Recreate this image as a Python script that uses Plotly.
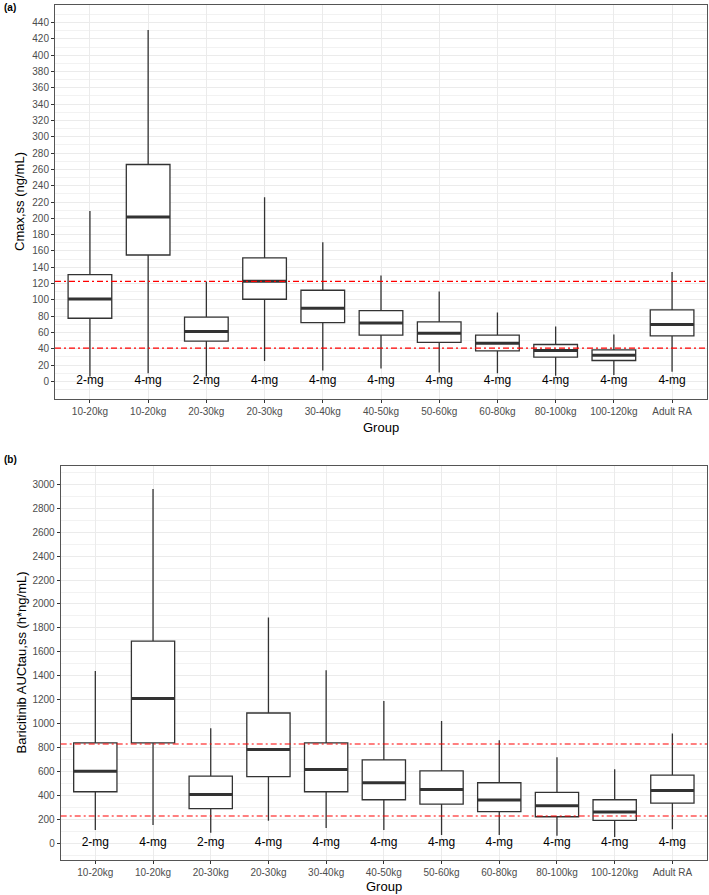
import plotly.graph_objects as go

# ---------------- data ----------------
groups = ["10-20kg", "10-20kg", "20-30kg", "20-30kg", "30-40kg", "40-50kg",
          "50-60kg", "60-80kg", "80-100kg", "100-120kg", "Adult RA"]
doses = ["2-mg", "4-mg", "2-mg", "4-mg", "4-mg", "4-mg",
         "4-mg", "4-mg", "4-mg", "4-mg", "4-mg"]

# Panel (a): Cmax,ss (ng/mL)
cmax_low = [6, 10, 6, 25, 13.5, 16, 11, 10, 7, 8, 12]
cmax_q1 = [77.5, 155, 49.4, 100.8, 72.2, 56.7, 47.8, 37.6, 29.8, 25.7, 55.9]
cmax_med = [101, 201.5, 61.2, 122.9, 89.8, 71.8, 59.2, 46.9, 38, 32.2, 69.8]
cmax_q3 = [131, 266, 78.8, 151.4, 111.8, 86.9, 73.1, 56.7, 45.3, 38.8, 87.8]
cmax_high = [209, 431, 122.4, 225.7, 170.6, 129.8, 110.2, 84.5, 67.3, 57.6, 134.3]
cmax_ref = [40.8, 122.6]

# Panel (b): AUCtau,ss (h*ng/mL)
auc_low = [111, 153, 89, 189, 128, 111, 69, 69, 64, 53, 117]
auc_q1 = [431, 839, 289, 558, 431, 364, 328, 264, 222, 192, 336]
auc_med = [603, 1211, 408, 783, 617, 506, 450, 361, 314, 261, 442]
auc_q3 = [839, 1689, 561, 1089, 839, 697, 606, 506, 425, 364, 569]
auc_high = [1439, 2961, 961, 1886, 1447, 1189, 1022, 861, 719, 619, 917]
auc_ref = [228, 830]

# ---------------- styling ----------------
W, H = 709, 895
FONT = "Liberation Sans, Arial, Helvetica, sans-serif"
BOX_W = 0.75
DARK = "#333333"
GRID = "#EBEBEB"
TICKC = "#4D4D4D"

pos = list(range(len(groups)))

fig = go.Figure()


def add_panel(xa, ya, low, q1, med, q3, high, ref):
    xs = "x" if xa == 1 else f"x{xa}"
    ys = "y" if ya == 1 else f"y{ya}"
    fig.add_trace(go.Box(
        x=pos, q1=q1, median=med, q3=q3, lowerfence=low, upperfence=high,
        width=BOX_W, whiskerwidth=0, boxpoints=False,
        fillcolor="white", line=dict(color=DARK, width=1.3),
        xaxis=xs, yaxis=ys, showlegend=False, hoverinfo="skip",
    ))
    # thick median bars
    mx, my = [], []
    for p, m in zip(pos, med):
        mx += [p - BOX_W / 2, p + BOX_W / 2, None]
        my += [m, m, None]
    fig.add_trace(go.Scatter(
        x=mx, y=my, mode="lines", line=dict(color=DARK, width=3),
        xaxis=xs, yaxis=ys, showlegend=False, hoverinfo="skip",
    ))
    # reference lines
    for r in ref:
        fig.add_shape(type="line", xref=f"{xs} domain", x0=0, x1=1,
                      yref=ys, y0=r, y1=r, layer="above",
                      line=dict(color="#FF0000", width=1.2, dash="6px,3px,2px,3px"))
    # dose labels at y = 0
    fig.add_trace(go.Scatter(
        x=pos, y=[0] * len(pos), mode="text", text=doses,
        textfont=dict(size=12, color="black", family=FONT),
        textposition="middle center",
        xaxis=xs, yaxis=ys, showlegend=False, hoverinfo="skip",
    ))


add_panel(1, 1, cmax_low, cmax_q1, cmax_med, cmax_q3, cmax_high, cmax_ref)
add_panel(2, 2, auc_low, auc_q1, auc_med, auc_q3, auc_high, auc_ref)


def xaxis_cfg(dom, anchor):
    return dict(
        domain=dom, anchor=anchor, range=[-0.6, len(groups) - 0.4],
        tickmode="array", tickvals=pos, ticktext=groups,
        ticks="outside", ticklen=3, tickcolor=DARK, tickwidth=1,
        tickfont=dict(size=10, color=TICKC, family=FONT),
        showgrid=True, gridcolor=GRID, gridwidth=1,
        showline=True, mirror=True, linecolor="#555555", linewidth=1,
        zeroline=False, automargin=False,
    )


def yaxis_cfg(dom, anchor, rng, dtick, top):
    return dict(
        domain=dom, anchor=anchor, range=rng,
        tickmode="array", tickvals=list(range(0, top + 1, dtick)),
        ticks="outside", ticklen=3, tickcolor=DARK, tickwidth=1,
        tickfont=dict(size=10, color=TICKC, family=FONT),
        showgrid=True, gridcolor=GRID, gridwidth=1,
        minor=dict(tickmode="linear", tick0=dtick / 2, dtick=dtick,
                   showgrid=True, gridcolor="#F2F2F2", gridwidth=0.6, ticks=""),
        showline=True, mirror=True, linecolor="#555555", linewidth=1,
        zeroline=False, automargin=False,
    )


def py(p):
    return 1 - p / H


def px(p):
    return p / W


fig.update_layout(
    width=W, height=H,
    margin=dict(l=0, r=0, t=0, b=0),
    paper_bgcolor="white", plot_bgcolor="white",
    font=dict(family=FONT),
    xaxis=xaxis_cfg([px(55), px(707)], "y"),
    yaxis=yaxis_cfg([py(399), py(5)], "x", [-21.5, 461.5], 20, 440),
    xaxis2=xaxis_cfg([px(60.7), px(707)], "y2"),
    yaxis2=yaxis_cfg([py(860), py(466)], "x2", [-139.5, 3153], 200, 3000),
)

ann = [
    dict(text="<b>(a)</b>", x=px(2), y=py(7), xanchor="left", yanchor="middle",
         font=dict(size=10, color="black")),
    dict(text="<b>(b)</b>", x=px(2), y=py(459.5), xanchor="left", yanchor="middle",
         font=dict(size=10, color="black")),
    dict(text="Group", x=px(381), y=py(428), xanchor="center", yanchor="middle",
         font=dict(size=13, color="black")),
    dict(text="Group", x=px(384), y=py(886), xanchor="center", yanchor="middle",
         font=dict(size=13, color="black")),
    dict(text="Cmax,ss (ng/mL)", x=px(20), y=py(202), textangle=-90,
         xanchor="center", yanchor="middle", font=dict(size=13, color="black")),
    dict(text="Baricitinib AUCtau,ss (h*ng/mL)", x=px(20.5), y=py(663), textangle=-90,
         xanchor="center", yanchor="middle", font=dict(size=13, color="black")),
]
for a in ann:
    a.update(xref="paper", yref="paper", showarrow=False)
    a["font"]["family"] = FONT
fig.update_layout(annotations=ann)

fig.write_html(
    "out.html",
    config={"displayModeBar": False},
    post_script="document.body.style.margin='0';document.body.style.overflow='hidden';",
)
